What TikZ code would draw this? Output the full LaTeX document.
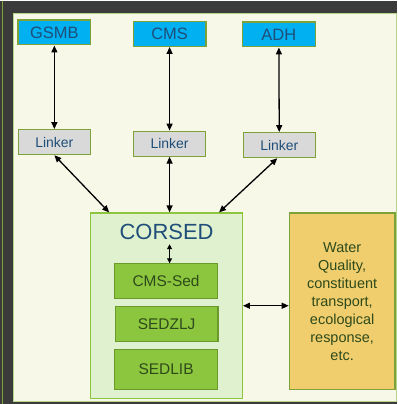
\documentclass[tikz,border=0pt]{standalone}
\usepackage{fontspec}
\setmainfont{Liberation Sans}
\usetikzlibrary{arrows.meta}

\definecolor{frame}{HTML}{3B3B3B}
\definecolor{panel}{HTML}{F8F8E9}
\definecolor{panelline}{HTML}{B5D58A}
\definecolor{olive}{HTML}{7DA23A}
\definecolor{cyanbox}{HTML}{00B0F0}
\definecolor{navy}{HTML}{1F4E79}
\definecolor{linkgray}{HTML}{D9D9D9}
\definecolor{palegreen}{HTML}{E0F1CF}
\definecolor{midgreen}{HTML}{8CC63F}
\definecolor{darkgreen}{HTML}{6A9A2A}
\definecolor{greentext}{HTML}{2E4A1A}
\definecolor{gold}{HTML}{F0CE6E}

\tikzset{
  model/.style={draw=olive, line width=1.2pt, fill=cyanbox, text=navy,
    minimum width=73pt, minimum height=25pt, font=\fontsize{16.5}{18}\selectfont},
  linker/.style={draw=olive, line width=1.2pt, fill=linkgray, text=navy,
    minimum width=72pt, minimum height=25pt, font=\fontsize{14}{16}\selectfont},
  sedbox/.style={draw=darkgreen, line width=1.2pt, fill=midgreen, text=greentext,
    minimum width=103pt, font=\fontsize{15.5}{18}\selectfont},
  arr/.style={line width=1.3pt, {Triangle[length=7pt,width=6pt]}-{Triangle[length=7pt,width=6pt]}}
}

\begin{document}
\begin{tikzpicture}[x=1pt,y=-1pt]
    \fill[frame] (0,0) rectangle (398,404);
    \draw[olive, line width=1pt] (2.5,0) -- (2.5,404);
    \filldraw[fill=panel, draw=panelline, line width=1pt] (14,13) rectangle (397,402);

    \node[model] (gsmb) at (54.5,32) {GSMB};
    \node[model] (cms)  at (170,33.5) {CMS};
    \node[model] (adh)  at (279.5,34) {ADH};

    \node[linker] (link1) at (54.5,142) {Linker};
    \node[linker] (link2) at (170,143.5) {Linker};
    \node[linker] (link3) at (280,145) {Linker};

    \node[draw=midgreen, line width=1.2pt, fill=palegreen, minimum width=152pt, minimum height=186pt] (corsed) at (167,306) {};
    \node[text=navy, font=\fontsize{22}{24}\selectfont] (corsedlbl) at (167,232) {CORSED};

    \node[sedbox, minimum height=35pt] (cmssed) at (166.5,281.5) {CMS-Sed};
    \node[sedbox, minimum height=35pt] (sedzlj) at (167,324.5) {SEDZLJ};
    \node[sedbox, minimum height=40pt] (sedlib) at (166.5,370) {SEDLIB};

    \node[draw=olive, line width=1.2pt, fill=gold, text=greentext, minimum width=106pt, minimum height=177pt,
      text width=96pt, align=center, font=\fontsize{14.5}{18}\selectfont] (wq) at (343,301.5)
      {Water\\Quality,\\constituent\\transport,\\ecological\\response,\\etc.};

    \draw[arr] (gsmb) -- (link1);
    \draw[arr] (cms) -- (link2);
    \draw[arr] (adh) -- (link3);
    \draw[arr] (link1.south) -- ([xshift=19pt]corsed.north west);
    \draw[arr] (link2.south) -- (link2.south |- corsed.north);
    \draw[arr] ([xshift=-2pt]link3.south) -- ([xshift=-24pt]corsed.north east);
    \draw[line width=1.2pt, {Triangle[length=5pt,width=5pt]}-{Triangle[length=5pt,width=5pt]}]
      ([xshift=3pt,yshift=-1pt]corsedlbl.south) -- ([xshift=3pt]corsedlbl.south |- cmssed.north);
    \draw[arr] (corsed.east) -- (wq.west |- corsed.east);
\end{tikzpicture}
\end{document}
